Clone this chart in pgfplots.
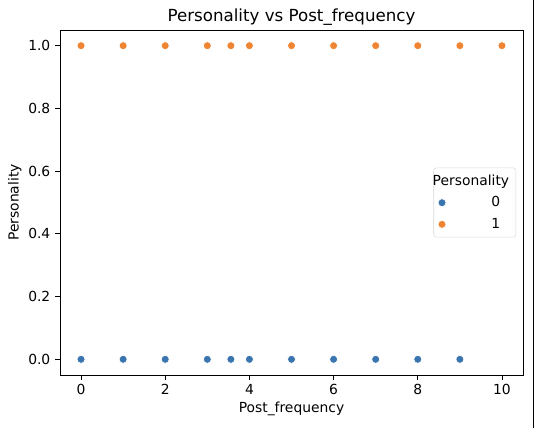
\documentclass[border=0pt]{standalone}
\usepackage{pgfplots}
\pgfplotsset{compat=1.18}
\usepackage{fontspec}
\setmainfont{DejaVu Sans}
\definecolor{cblue}{HTML}{3A75AF}
\definecolor{corange}{HTML}{EF8533}
\begin{document}
\fontsize{10.4}{12.5}\selectfont
\begin{tikzpicture}
\path[use as bounding box] (-45pt,-39.75pt) rectangle (355.5pt,281.25pt);
\begin{axis}[
  at={(0,0)}, anchor=south west,
  scale only axis, width=347.25pt, height=258.75pt,
  xmin=-0.5, xmax=10.5, ymin=-0.05, ymax=1.05,
  xtick={0,2,4,6,8,10},
  ytick={0,0.2,0.4,0.6,0.8,1.0},
  yticklabel style={/pgf/number format/.cd, fixed, fixed zerofill, precision=1},
  /pgf/number format/assume math mode=true,
  tick align=outside, tick pos=left,
  major tick length=3.6pt,
  tick style={black, line width=0.6pt},
  axis line style={line width=0.6pt},
  title={\fontsize{12.5}{14}\selectfont Personality vs Post\_frequency},
  title style={yshift=-6.5pt},
  xlabel={Post\_frequency}, ylabel={Personality},
  xlabel style={yshift=2pt},
  ylabel style={yshift=-2pt},
  legend style={at={(0.985,0.5)}, anchor=east, draw=black!15, rounded corners=2pt,
    font=\fontsize{10.4}{12.5}\selectfont, row sep=3pt, inner xsep=3pt, inner ysep=3pt},
  legend cell align=left,
  legend image code/.code={\path (-3pt,0pt); \draw[#1] plot coordinates {(0pt,0pt)};},
]
\addlegendimage{empty legend}
\addlegendentry{\hspace{-12pt}Personality}
\addplot[only marks, mark=*, mark size=3pt, color=cblue, mark options={fill=cblue, draw=white, line width=0.5pt}]
  coordinates {(0,0) (1,0) (2,0) (3,0) (3.56,0) (4,0) (5,0) (6,0) (7,0) (8,0) (9,0)};
\addlegendentry{\hspace{32pt}0}
\addplot[only marks, mark=*, mark size=3pt, color=corange, mark options={fill=corange, draw=white, line width=0.5pt}]
  coordinates {(0,1) (1,1) (2,1) (3,1) (3.56,1) (4,1) (5,1) (6,1) (7,1) (8,1) (9,1) (10,1)};
\addlegendentry{\hspace{32pt}1}
\end{axis}
\draw[line width=0.6pt] (354.75pt,-39.75pt) -- (354.75pt,281.25pt);
\end{tikzpicture}
\end{document}
